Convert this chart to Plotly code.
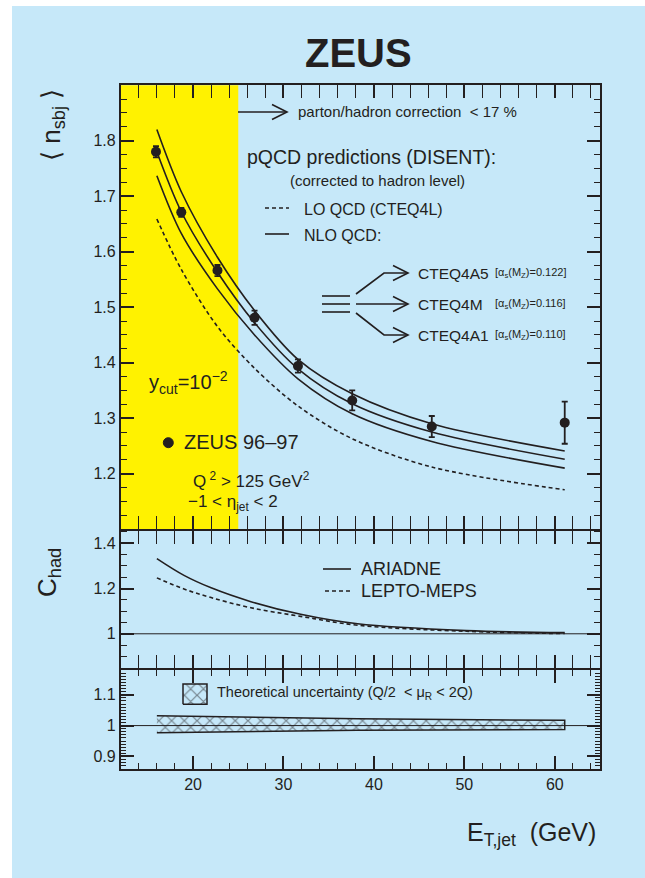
import plotly.graph_objects as go

W, H = 645, 878
FONT = "Liberation Sans, Arial, Helvetica, sans-serif"
TXT = "#231F20"
BLUE = "#C6E8F9"
YELLOW = "#FFF200"

def X(px):
    return px / W

def Y(py):
    return 1 - py / H

# ---------------- data ----------------
et_data = [15.9, 18.7, 22.7, 26.8, 31.6, 37.6, 46.4, 61.1]
nsbj_data = [1.780, 1.671, 1.566, 1.481, 1.394, 1.332, 1.285, 1.292]
nsbj_err = [0.010, 0.008, 0.010, 0.013, 0.012, 0.018, 0.019, 0.038]

et_curve = [16.0, 18.7, 22.7, 26.8, 31.6, 37.6, 46.4, 61.1]
nlo_a5 = [1.820, 1.708, 1.590, 1.494, 1.406, 1.344, 1.290, 1.241]
nlo_m = [1.780, 1.672, 1.563, 1.472, 1.389, 1.326, 1.275, 1.226]
nlo_a1 = [1.737, 1.633, 1.533, 1.450, 1.371, 1.308, 1.258, 1.210]
lo_cteq4l = [1.659, 1.568, 1.465, 1.390, 1.322, 1.263, 1.212, 1.171]

et_had = [16.0, 19.0, 22.0, 26.4, 31.9, 38.2, 50.2, 61.1]
chad_ariadne = [1.332, 1.258, 1.203, 1.142, 1.086, 1.044, 1.014, 1.005]
chad_lepto = [1.247, 1.198, 1.160, 1.115, 1.077, 1.038, 1.011, 1.001]

et_band = [16.0, 38.2, 61.1]
band_upper = [1.032, 1.022, 1.017]
band_lower = [0.977, 0.985, 0.987]

x_ticks = [20, 30, 40, 50, 60]
y1_ticks = [1.2, 1.3, 1.4, 1.5, 1.6, 1.7, 1.8]
y2_ticks = [1.0, 1.2, 1.4]
y3_ticks = [0.9, 1.0, 1.1]

# axis ranges
XR = [12, 65]
YR1 = [1.1, 1.9]
YR2 = [0.848, 1.455]
YR3 = [0.8585, 1.181]

# pixel geometry of the frame
LWF = 1.6
PX_L, PX_R = 120.7, 600.0
PY_T1, PY_B1, PY_B2, PY_B3 = 86.0, 530.0, 669.0, 770.0

def xd(px):
    return XR[0] + (px - PX_L) / (PX_R - PX_L) * (XR[1] - XR[0])

def y3d(py):
    return YR3[1] - (py - PY_B2) / (PY_B3 - PY_B2) * (YR3[1] - YR3[0])

fig = go.Figure()

LW = 1.6
fig.add_trace(go.Scatter(x=et_curve, y=lo_cteq4l, mode="lines", xaxis="x", yaxis="y",
                         line=dict(color=TXT, width=LW, dash="4px,3px", shape="spline", smoothing=0.9)))
for ys in (nlo_a5, nlo_m, nlo_a1):
    fig.add_trace(go.Scatter(x=et_curve, y=ys, mode="lines", xaxis="x", yaxis="y",
                             line=dict(color=TXT, width=LW, shape="spline", smoothing=0.9)))
fig.add_trace(go.Scatter(x=et_data, y=nsbj_data, mode="markers", xaxis="x", yaxis="y",
                         marker=dict(color=TXT, size=10),
                         error_y=dict(type="data", array=nsbj_err, color=TXT, thickness=1.8, width=3)))

fig.add_trace(go.Scatter(x=et_had, y=chad_ariadne, mode="lines", xaxis="x", yaxis="y2",
                         line=dict(color=TXT, width=LW, shape="spline", smoothing=1.0)))
fig.add_trace(go.Scatter(x=et_had, y=chad_lepto, mode="lines", xaxis="x", yaxis="y2",
                         line=dict(color=TXT, width=LW, dash="4px,3px", shape="spline", smoothing=1.0)))

pattern = dict(shape="x", fgcolor=TXT, bgcolor="rgba(0,0,0,0)", size=9, solidity=0.25)
fig.add_trace(go.Scatter(x=et_band + et_band[::-1], y=band_upper + band_lower[::-1],
                         mode="lines", fill="toself", fillcolor="rgba(0,0,0,0)", fillpattern=pattern,
                         xaxis="x", yaxis="y3", line=dict(color=TXT, width=1.5)))
sx0, sx1 = xd(183), xd(207)
sy0, sy1 = y3d(704), y3d(683.5)
fig.add_trace(go.Scatter(x=[sx0, sx1, sx1, sx0, sx0], y=[sy0, sy0, sy1, sy1, sy0],
                         mode="lines", fill="toself", fillcolor="rgba(0,0,0,0)", fillpattern=pattern,
                         xaxis="x", yaxis="y3", line=dict(color=TXT, width=1.5)))

xdom = [X(PX_L), X(PX_R)]
tickfont = dict(family=FONT, size=16, color=TXT)
common_y = dict(showline=True, linecolor=TXT, linewidth=LWF, mirror="ticks", ticks="inside",
                tickcolor=TXT, tickwidth=1.6, ticklen=13, showgrid=False, zeroline=False,
                tickfont=tickfont, anchor="x", ticksuffix=" ")

h = LWF / 2  # shift so that adjacent frame lines coincide
fig.update_layout(
    width=W, height=H, margin=dict(l=0, r=0, t=0, b=0),
    paper_bgcolor="white", plot_bgcolor="rgba(0,0,0,0)", showlegend=False,
    font=dict(family=FONT, color=TXT),
    xaxis=dict(domain=xdom, range=XR, anchor="y3", tickvals=x_ticks, showline=True, linecolor=TXT,
               linewidth=LWF, mirror="allticks", ticks="inside", tickcolor=TXT, tickwidth=1.6,
               ticklen=13, showgrid=False, zeroline=False, tickfont=tickfont,
               minor=dict(dtick=2, tick0=0, ticks="inside", ticklen=6, tickcolor=TXT, tickwidth=1.3)),
    yaxis=dict(domain=[Y(PY_B1 - h), Y(PY_T1 - h)], range=YR1, tickvals=y1_ticks,
               minor=dict(dtick=0.025, tick0=0, ticks="inside", ticklen=6, tickcolor=TXT, tickwidth=1.3),
               **common_y),
    yaxis2=dict(domain=[Y(PY_B2 - h), Y(PY_B1 + h)], range=YR2, tickvals=y2_ticks,
                minor=dict(dtick=0.05, tick0=0, ticks="inside", ticklen=6, tickcolor=TXT, tickwidth=1.3),
                **common_y),
    yaxis3=dict(domain=[Y(PY_B3 - h), Y(PY_B2 + h)], range=YR3, tickvals=y3_ticks,
                minor=dict(dtick=0.01, tick0=0, ticks="inside", ticklen=5, tickcolor=TXT, tickwidth=1.0),
                **common_y),
)

shapes = []
shapes.append(dict(type="rect", xref="paper", yref="paper", x0=X(12), x1=1, y0=0, y1=Y(6),
                   fillcolor=BLUE, line=dict(width=0), layer="below"))
shapes.append(dict(type="rect", xref="x", yref="y domain", x0=XR[0], x1=25, y0=0, y1=1,
                   fillcolor=YELLOW, line=dict(width=0), layer="below"))
shapes.append(dict(type="line", xref="x domain", yref="y2", x0=0, x1=1, y0=1, y1=1,
                   line=dict(color=TXT, width=1)))
shapes.append(dict(type="line", xref="x domain", yref="y3", x0=0, x1=1, y0=1, y1=1,
                   line=dict(color=TXT, width=1)))

def pline(points, dash=None, width=1.6):
    d = "M " + " L ".join(f"{X(px):.5f},{Y(py):.5f}" for px, py in points)
    ln = dict(color=TXT, width=width)
    if dash:
        ln["dash"] = dash
    shapes.append(dict(type="path", xref="paper", yref="paper", path=d, line=ln))

def chevron(tx, ty):
    pline([(tx - 15, ty - 7.5), (tx, ty), (tx - 15, ty + 7.5)])

pline([(238, 112), (287, 112)])
chevron(287, 112)
pline([(265, 208), (289, 208)], dash="4px,3px")
pline([(265, 234), (289, 234)])
for yy in (296, 304, 312):
    pline([(322, yy), (350, yy)])
pline([(356, 294), (384, 273), (408, 273)])
chevron(408, 273)
pline([(356, 304), (408, 304)])
chevron(408, 304)
pline([(356, 313), (384, 335), (408, 335)])
chevron(408, 335)
pline([(323, 569), (351, 569)])
pline([(325, 591), (351, 591)], dash="4px,3px")
shapes.append(dict(type="circle", xref="paper", yref="paper", x0=X(163.3), x1=X(173.3),
                   y0=Y(447.7), y1=Y(437.7), fillcolor=TXT, line=dict(color=TXT, width=1)))
fig.update_layout(shapes=shapes)

ann = []

def text(px, py, s, size, xanchor="left", angle=0, yanchor="middle"):
    ann.append(dict(x=X(px), y=Y(py), xref="paper", yref="paper", text=s, showarrow=False,
                    xanchor=xanchor, yanchor=yanchor, textangle=angle,
                    font=dict(family=FONT, size=size, color=TXT)))

text(358, 53, "<b>ZEUS</b>", 40, xanchor="center")
text(52, 125, "⟨ n<sub>sbj</sub> ⟩", 26, xanchor="center", angle=-90)
text(48, 573, "C<sub>had</sub>", 26, xanchor="center", angle=-90)
text(598, 834, "E<sub>T,jet</sub>  (GeV)", 25, xanchor="right")
text(296, 112, "parton/hadron correction  &lt; 17 %", 15)
text(245, 157, "pQCD predictions (DISENT):", 19.5)
text(288, 180, "(corrected to hadron level)", 15)
text(302, 209, "LO QCD (CTEQ4L)", 16)
text(302, 235, "NLO QCD:", 16)
text(416, 273, "CTEQ4A5", 15.5)
text(416, 304, "CTEQ4M", 15.5)
text(416, 335, "CTEQ4A1", 15.5)
text(493, 273, "[α<sub>s</sub>(M<sub>Z</sub>)=0.122]", 11)
text(493, 304, "[α<sub>s</sub>(M<sub>Z</sub>)=0.116]", 11)
text(493, 335, "[α<sub>s</sub>(M<sub>Z</sub>)=0.110]", 11)
text(147, 382, "y<sub>cut</sub>=10<sup>−2</sup>", 20)
text(182, 442, "ZEUS 96–97", 20)
text(191, 480, "Q<sup> 2</sup> &gt; 125 GeV<sup>2</sup>", 17)
text(186, 503, "−1 &lt; η<sub>jet</sub> &lt; 2", 17)
text(359, 569, "ARIADNE", 18)
text(359, 591, "LEPTO-MEPS", 18)
text(215, 693, "Theoretical uncertainty (Q/2  &lt; μ<sub>R</sub> &lt; 2Q)", 14.5)
fig.update_layout(annotations=ann)

fig.write_html("out.html")
